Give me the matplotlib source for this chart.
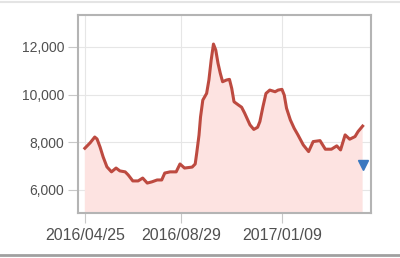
import numpy as np
import pandas as pd
import matplotlib
matplotlib.use("Agg")
import matplotlib.pyplot as plt
import matplotlib.dates as mdates
from matplotlib.lines import Line2D

dates = ["2016-04-25", "2016-05-02", "2016-05-08", "2016-05-11", "2016-05-15",
         "2016-05-19", "2016-05-24", "2016-05-30", "2016-06-05", "2016-06-10",
         "2016-06-17", "2016-06-21", "2016-06-27", "2016-07-04", "2016-07-10",
         "2016-07-16", "2016-07-22", "2016-07-29", "2016-08-04", "2016-08-08",
         "2016-08-15", "2016-08-23", "2016-08-28", "2016-09-03", "2016-09-13",
         "2016-09-17", "2016-09-19", "2016-09-22", "2016-09-24", "2016-09-27",
         "2016-10-02", "2016-10-05", "2016-10-08", "2016-10-11", "2016-10-14",
         "2016-10-17", "2016-10-20", "2016-10-23", "2016-10-28", "2016-11-01",
         "2016-11-04", "2016-11-07", "2016-11-13", "2016-11-17", "2016-11-21",
         "2016-11-28", "2016-12-03", "2016-12-08", "2016-12-11", "2016-12-15",
         "2016-12-19", "2016-12-24", "2016-12-31", "2017-01-04", "2017-01-09",
         "2017-01-12", "2017-01-15", "2017-01-20", "2017-01-25", "2017-01-30",
         "2017-02-06", "2017-02-13", "2017-02-19", "2017-02-28", "2017-03-07",
         "2017-03-15", "2017-03-22", "2017-03-27", "2017-04-02", "2017-04-08",
         "2017-04-15", "2017-04-19", "2017-04-25"]
prices = [7750, 7980, 8220, 8140, 7800, 7390, 6970, 6760, 6920, 6800,
          6760, 6630, 6380, 6380, 6500, 6290, 6340, 6420, 6420, 6710,
          6760, 6760, 7090, 6920, 6960, 7090, 7550, 8300, 9060, 9770,
          10050, 10610, 11450, 12120, 11870, 11310, 10890, 10540, 10610, 10640,
          10260, 9700, 9560, 9470, 9220, 8730, 8540, 8630, 8870, 9490,
          10050, 10190, 10120, 10190, 10220, 9980, 9430, 8940, 8590, 8310,
          7890, 7610, 8030, 8070, 7710, 7710, 7850, 7680, 8310, 8130,
          8240, 8450, 8680]
marker_date = "2017-04-25"
marker_value = 7050
tick_dates = ["2016-04-25", "2016-08-29", "2017-01-09"]
yticks = [6000, 8000, 10000, 12000]

plt.rcParams['font.family'] = ['Liberation Sans', 'DejaVu Sans']

x = pd.to_datetime(dates)
fig = plt.figure(figsize=(4, 2.58), dpi=100)
ax = fig.add_axes([0.195, 0.174, 0.7325, 0.768])

ax.fill_between(x, prices, 0, color='#fde3e1', lw=0)
ax.plot(x, prices, color='#bd4a40', lw=2.2, solid_joinstyle='round')
ax.plot(pd.to_datetime([marker_date]), [marker_value], marker='v', color='#3a78c0',
        ms=7, ls='none')

ax.set_xlim(pd.Timestamp("2016-04-16"), pd.Timestamp("2017-05-06"))
ax.set_ylim(5030, 13340)
ax.set_xticks(pd.to_datetime(tick_dates))
ax.xaxis.set_major_formatter(mdates.DateFormatter("%Y/%m/%d"))
ax.set_yticks(yticks)
ax.set_yticklabels([f"{v:,}" for v in yticks])

ax.grid(True, color='#e6e6e6', lw=0.8)
ax.set_axisbelow(True)
for s in ax.spines.values():
  s.set_color('#b4b4b4')
  s.set_linewidth(1.5)
ax.tick_params(axis='y', length=7, color='#c8c8c8', labelcolor='#505050', labelsize=10, pad=3)
ax.tick_params(axis='x', length=7, color='#c8c8c8', labelcolor='#505050', labelsize=11.5, pad=4)

fig.add_artist(Line2D([0, 1], [3 / 258, 3 / 258], color='#a0a0a0', lw=2))
fig.add_artist(Line2D([0, 1], [256 / 258, 256 / 258], color='#e4e4e4', lw=1.5))

fig.savefig("out.png", dpi=100)
